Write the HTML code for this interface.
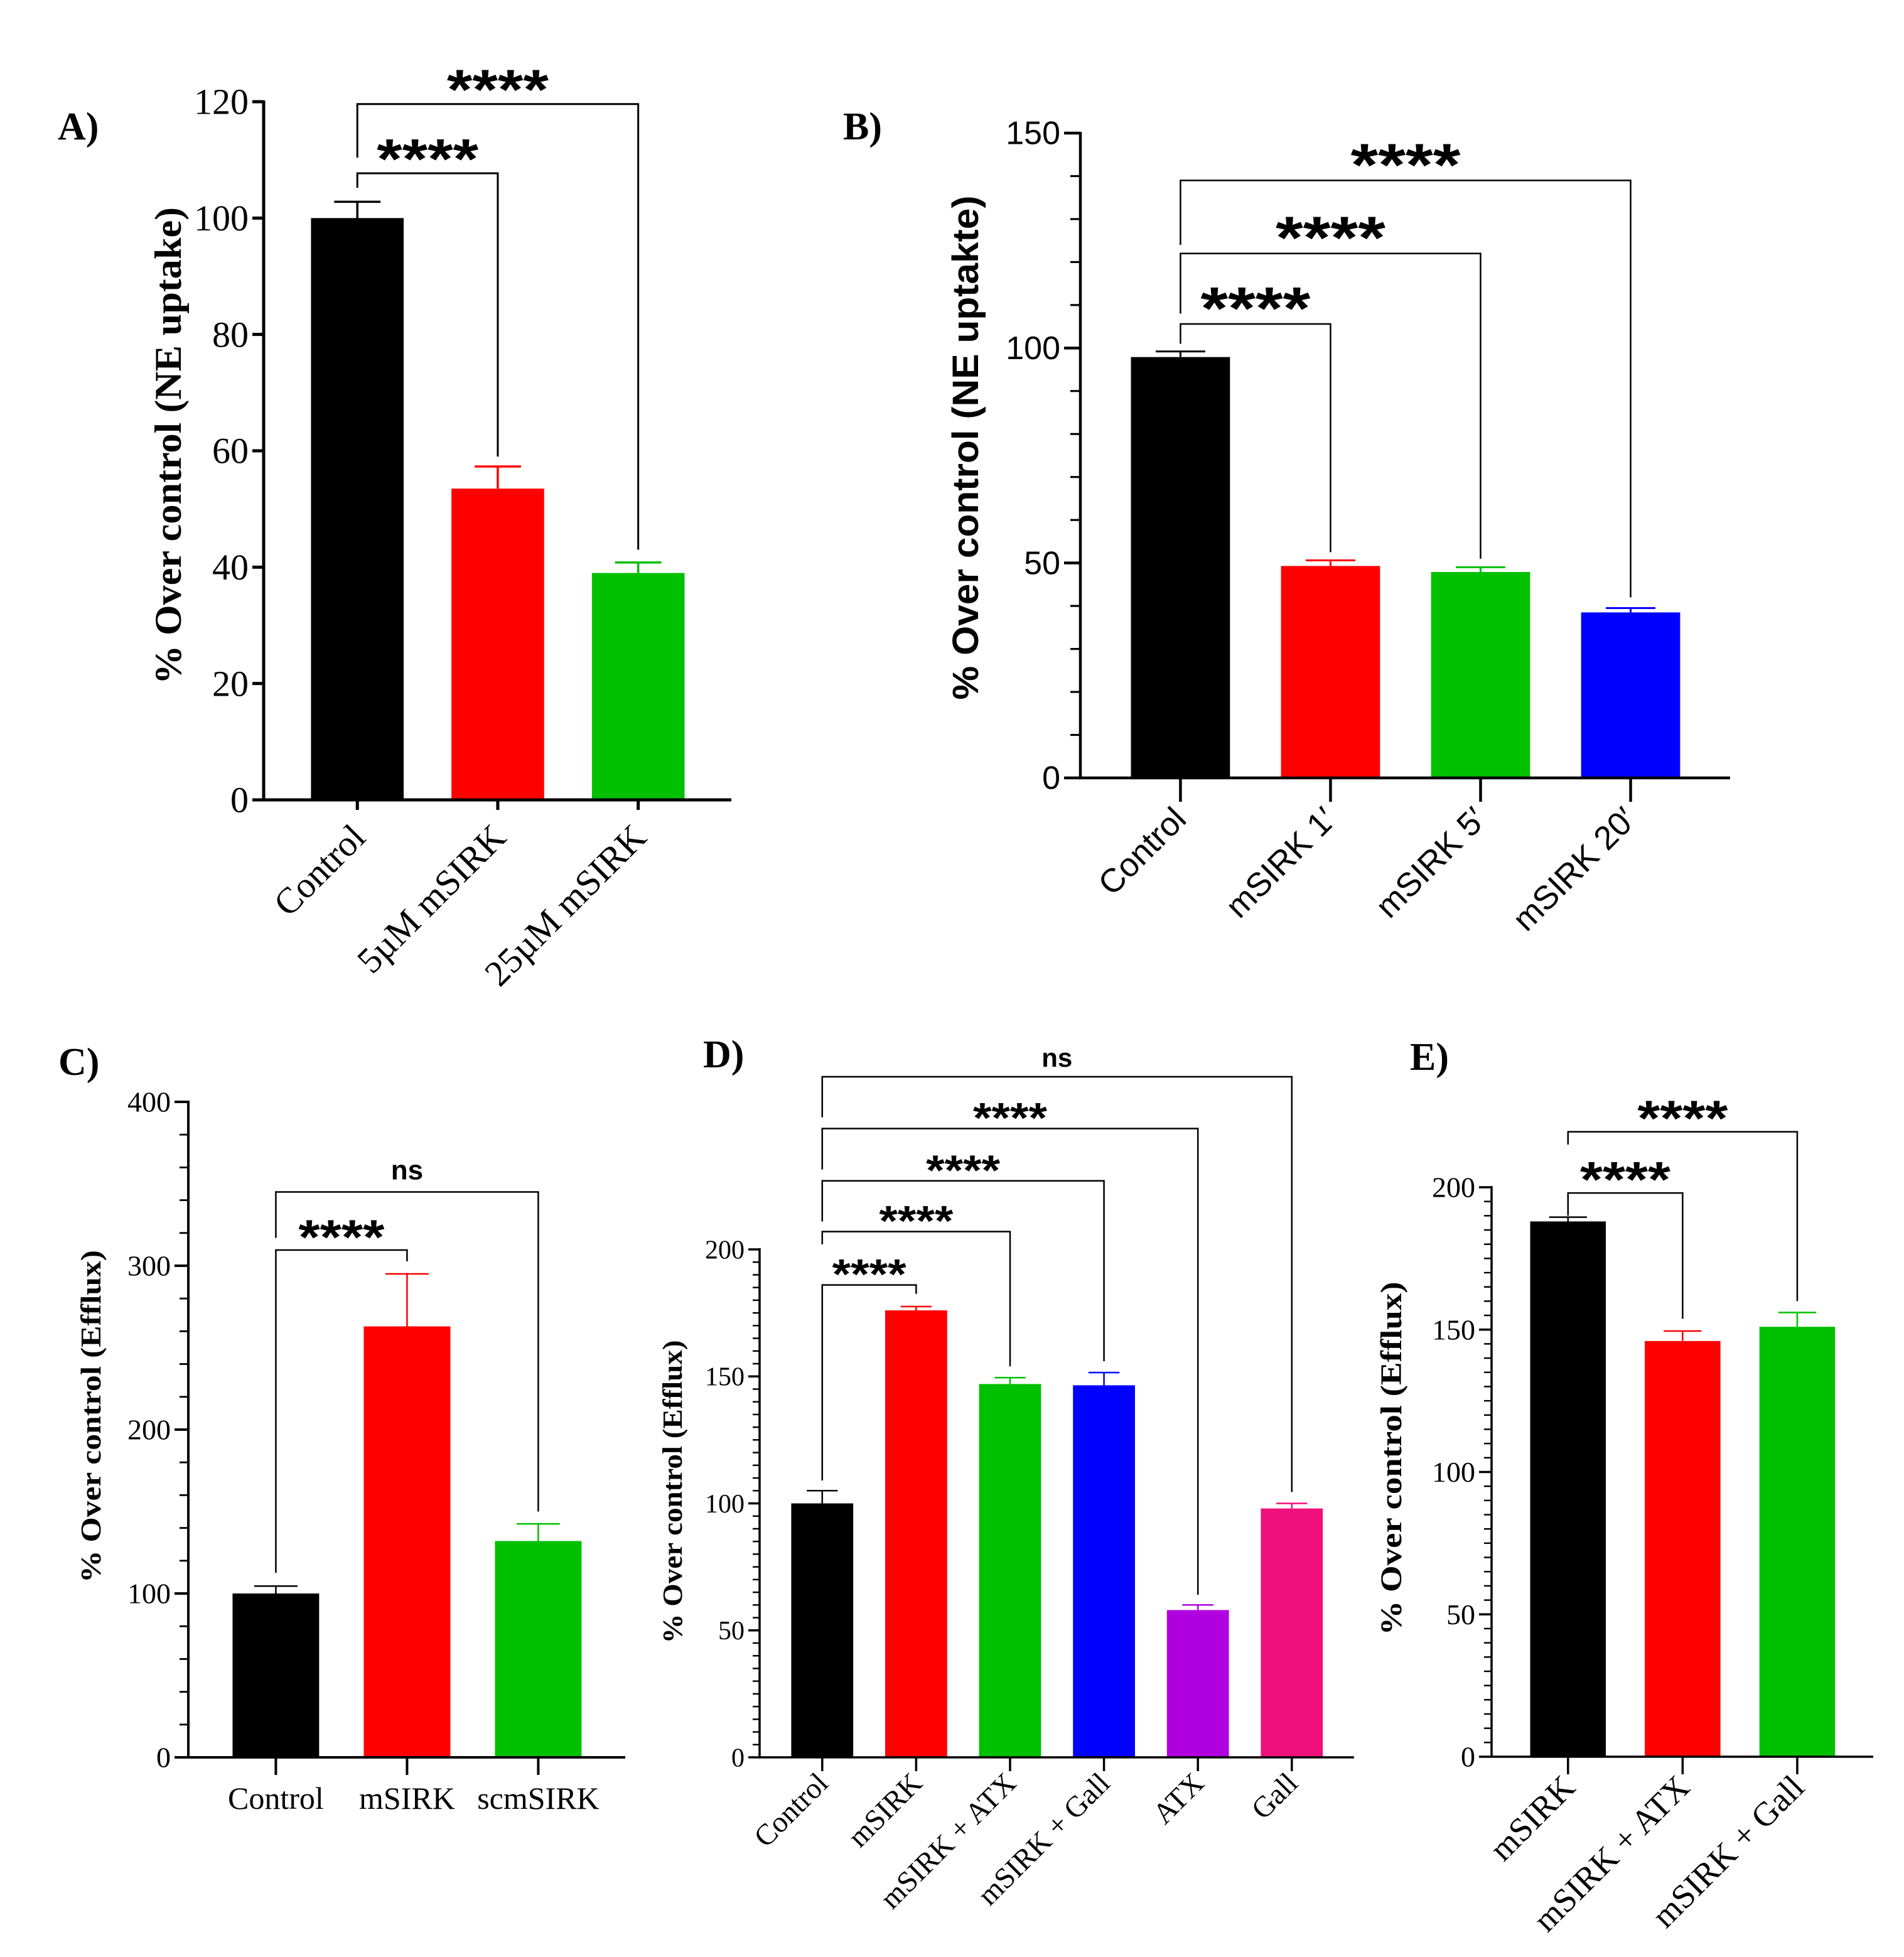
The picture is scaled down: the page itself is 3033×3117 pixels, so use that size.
<!DOCTYPE html>
<html><head><meta charset="utf-8"><style>
html,body{margin:0;padding:0;background:#fff}
svg{display:block}
</style></head><body>
<svg id="fig" width="3033" height="3117" viewBox="0 0 3033 3117" xmlns="http://www.w3.org/2000/svg">
<rect width="3033" height="3117" fill="#fff"/>
</svg>
<script>
// ---------- data ----------
const aCats = ["Control", "5\u00B5M mSIRK", "25\u00B5M mSIRK"];
const aVals = [100, 53.5, 39];
const aErrs = [2.8, 3.8, 1.8];
const aTicks = [0, 20, 40, 60, 80, 100, 120];
const aSig = ["****", "****"];

const bCats = ["Control", "mSIRK 1\u2032", "mSIRK 5\u2032", "mSIRK 20\u2032"];
const bVals = [97.9, 49.3, 47.9, 38.5];
const bErrs = [1.3, 1.3, 1.1, 1.0];
const bTicks = [0, 50, 100, 150];
const bSig = ["****", "****", "****"];

const cCats = ["Control", "mSIRK", "scmSIRK"];
const cVals = [100, 263, 132];
const cErrs = [4.5, 32, 10.5];
const cTicks = [0, 100, 200, 300, 400];
const cSig = ["****", "ns"];

const dCats = ["Control", "mSIRK", "mSIRK + ATX", "mSIRK + Gall", "ATX", "Gall"];
const dVals = [100, 176, 147, 146.5, 58, 98];
const dErrs = [5, 1.5, 2.5, 5, 2, 2];
const dTicks = [0, 50, 100, 150, 200];
const dSig = ["****", "****", "****", "****", "ns"];

const eCats = ["mSIRK", "mSIRK + ATX", "mSIRK + Gall"];
const eVals = [188, 146, 151];
const eErrs = [1.5, 3.5, 5];
const eTicks = [0, 50, 100, 150, 200];
const eSig = ["****", "****"];

// ---------- drawing ----------
const NS = "http://www.w3.org/2000/svg";
const svg = document.getElementById("fig");
function mk(tag, attrs, parent) {
  const el = document.createElementNS(NS, tag);
  for (const k in attrs) el.setAttribute(k, attrs[k]);
  (parent || svg).appendChild(el);
  return el;
}
const SERIF = '"Liberation Serif", serif';
const SANS = '"Liberation Sans", sans-serif';

function panel(o) {
  const g = mk("g", {});
  
  
  const yMax = o.ticks[o.ticks.length - 1];
  const y = v => o.y0 - (v / yMax) * (o.y0 - o.yTop);
  const n = o.cats.length;
  const step = (o.xEnd - o.ax) / (n + 0.33);
  const cx = i => o.ax + step * (i + 0.667);
  const bw = step * 0.66;
  o.vals.forEach((v, i) => {
    const r = mk("rect", {x: cx(i) - bw / 2, y: y(v), width: bw, height: o.y0 - y(v), fill: o.colors[i]}, g);
    
    
    const eb = mk("path", {d: `M${cx(i)},${y(v)} V${y(v + o.errs[i])} M${cx(i) - bw / 4},${y(v + o.errs[i])} H${cx(i) + bw / 4}`, stroke: o.colors[i], "stroke-width": o.ew, fill: "none"}, g);
    
    
  });
  const ax = mk("path", {d: `M${o.ax},${o.yTop - 2} V${o.y0} H${o.xEnd}`, stroke: "#000", "stroke-width": o.lw, fill: "none"}, g);
  
  
  if (o.minor) {
    for (let v = 0; v <= yMax + 1e-6; v += o.minor) {
      mk("line", {x1: o.ax - o.minLen, x2: o.ax, y1: y(v), y2: y(v), stroke: "#000", "stroke-width": o.lw * 0.7}, g);
    }
  }
  o.ticks.forEach(t => {
    mk("line", {x1: o.ax - o.tickLen, x2: o.ax, y1: y(t), y2: y(t), stroke: "#000", "stroke-width": o.lw}, g);
    const tx = mk("text", {x: o.ax - o.tickLen - 6, y: y(t) + o.tfs * 0.34, "text-anchor": "end", "font-family": o.font, "font-size": o.tfs, fill: "#000"}, g);
    tx.textContent = t;
    
    
  });
  o.cats.forEach((c, i) => {
    mk("line", {x1: cx(i), x2: cx(i), y1: o.y0, y2: o.y0 + o.xTickLen, stroke: "#000", "stroke-width": o.lw}, g);
    let t;
    if (o.rot) {
      const lx = cx(i) + o.lox, ly = o.y0 + o.loy;
      t = mk("text", {x: lx, y: ly, "text-anchor": "end", "font-family": o.font, "font-size": o.xfs, transform: `rotate(-45 ${lx} ${ly})`}, g);
    } else {
      t = mk("text", {x: cx(i), y: o.y0 + o.loy, "text-anchor": "middle", "font-family": o.font, "font-size": o.xfs}, g);
    }
    t.textContent = c;
    
    
  });
  const yt = mk("text", {x: o.titleX, y: o.titleY, "text-anchor": "middle", "font-family": o.font, "font-weight": "bold", "font-size": o.titleFs, transform: `rotate(-90 ${o.titleX} ${o.titleY})`, textLength: o.titleLen, lengthAdjust: "spacingAndGlyphs"}, g);
  yt.textContent = o.title;
  
  
  const pl = mk("text", {x: o.letterX, y: o.letterY, "font-family": SERIF, "font-weight": "bold", "font-size": 62}, g);
  pl.textContent = o.letter;
  
  
  o.br.forEach((b, k) => {
    const x1 = cx(b[0]), x2 = cx(b[1]);
    const p = mk("path", {d: `M${x1},${y(b[3])} V${y(b[2])} H${x2} V${y(b[4])}`, stroke: "#000", "stroke-width": o.bw, fill: "none"}, g);
    
    
    const lab = o.sig[k];
    const mx = (x1 + x2) / 2;
    let t;
    if (lab === "ns") {
      t = mk("text", {x: mx, y: y(b[2]) - o.nsOff, "text-anchor": "middle", "font-family": SANS, "font-weight": "bold", "font-size": o.nsFs}, g);
    } else {
      t = mk("text", {x: mx, y: y(b[2]) - o.starOff, "text-anchor": "middle", "font-family": SANS, "font-weight": "bold", "font-size": o.starFs, textLength: o.starLen, lengthAdjust: "spacingAndGlyphs"}, g);
    }
    t.textContent = lab;
    
    
  });
}

panel({name: "panel-a", letter: "A)", letterX: 92, letterY: 222, cats: aCats, vals: aVals, errs: aErrs, ticks: aTicks, sig: aSig,
  colors: ["#000", "#ff0000", "#00c000"], ax: 420, xEnd: 1165, y0: 1274, yTop: 162, lw: 5, ew: 3.5, tickLen: 18, xTickLen: 16,
  font: SERIF, tfs: 58, xfs: 58, rot: true, lox: 16, loy: 63, title: "% Over control (NE uptake)", titleX: 288, titleY: 710, titleFs: 60, titleLen: 760,
  br: [[0, 1, 107.7, 105.2, 59], [0, 2, 119.6, 110.4, 43]], bw: 3, starOff: -8, starFs: 90, starLen: 162, nsFs: 46, nsOff: 20});

panel({name: "panel-b", letter: "B)", letterX: 1343, letterY: 222, cats: bCats, vals: bVals, errs: bErrs, ticks: bTicks, sig: bSig,
  colors: ["#000", "#ff0000", "#00c000", "#0000ff"], ax: 1721, xEnd: 2756, y0: 1239, yTop: 212, lw: 4.5, ew: 3, tickLen: 26, minLen: 16, minor: 10, xTickLen: 38,
  font: SANS, tfs: 52, xfs: 53, rot: true, lox: 12, loy: 69, title: "% Over control (NE uptakte)", titleX: 1558, titleY: 713, titleFs: 58, titleLen: 803,
  br: [[0, 1, 105.6, 101, 52.5], [0, 2, 122, 108, 51], [0, 3, 139, 124, 42]], bw: 2.5, starOff: -8, starFs: 96, starLen: 175, nsFs: 46, nsOff: 20});

panel({name: "panel-c", letter: "C)", letterX: 93, letterY: 1712, cats: cCats, vals: cVals, errs: cErrs, ticks: cTicks, sig: cSig,
  colors: ["#000", "#ff0000", "#00c000"], ax: 300, xEnd: 996, y0: 2799, yTop: 1755, lw: 4, ew: 2.5, tickLen: 22, minLen: 14, minor: 20, xTickLen: 28,
  font: SERIF, tfs: 46, xfs: 50, rot: false, loy: 82, title: "% Over control (Efflux)", titleX: 160, titleY: 2256, titleFs: 46, titleLen: 530,
  br: [[0, 1, 309.6, 112.6, 302.7], [0, 2, 345, 317, 150]], bw: 2.5, starOff: -6, starFs: 78, starLen: 137, nsFs: 44, nsOff: 20});

panel({name: "panel-d", letter: "D)", letterX: 1120, letterY: 1700, cats: dCats, vals: dVals, errs: dErrs, ticks: dTicks, sig: dSig,
  colors: ["#000", "#ff0000", "#00c000", "#0000ff", "#b000e0", "#f0107c"], ax: 1210, xEnd: 2157, y0: 2799, yTop: 1990, lw: 3.5, ew: 2.5, tickLen: 18, minLen: 11, minor: 5, xTickLen: 22,
  font: SERIF, tfs: 42, xfs: 47, rot: true, lox: 12, loy: 44, title: "% Over control (Efflux)", titleX: 1086, titleY: 2376, titleFs: 44, titleLen: 483,
  br: [[0, 1, 186, 109, 182.5], [0, 2, 207, 202, 154], [0, 3, 227, 211, 156], [0, 4, 247.6, 231.5, 64], [0, 5, 268, 252, 104.5]], bw: 2.5, starOff: -6, starFs: 68, starLen: 118, nsFs: 42, nsOff: 16});

panel({name: "panel-e", letter: "E)", letterX: 2246, letterY: 1704, cats: eCats, vals: eVals, errs: eErrs, ticks: eTicks, sig: eSig,
  colors: ["#000", "#ff0000", "#00c000"], ax: 2376, xEnd: 2984, y0: 2798, yTop: 1891, lw: 3.5, ew: 2.5, tickLen: 20, minLen: 12, minor: 5, xTickLen: 28,
  font: SERIF, tfs: 46, xfs: 54, rot: true, lox: 14, loy: 52, title: "% Over control (Efflux)", titleX: 2232, titleY: 2323, titleFs: 48, titleLen: 563,
  br: [[0, 1, 198, 190, 153.8], [0, 2, 219.5, 215, 160]], bw: 2.5, starOff: -6, starFs: 80, starLen: 144, nsFs: 44, nsOff: 18});
</script>
</body></html>
